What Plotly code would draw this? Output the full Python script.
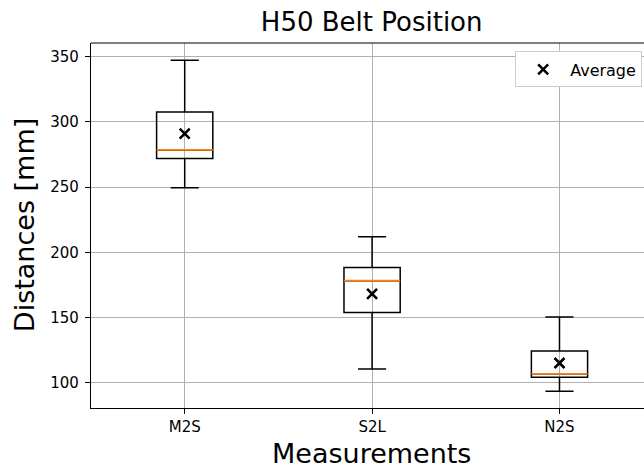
import plotly.graph_objects as go

# Box statistics per measurement (mm)
categories = ["M2S", "S2L", "N2S"]
positions = [1, 2, 3]
lower_whisker = [249.5, 110.7, 93.6]
q1_values = [272.0, 154.0, 104.3]
medians = [278.6, 178.4, 107.1]
q3_values = [307.6, 188.4, 124.5]
upper_whisker = [347.2, 212.1, 150.5]
averages = [291.1, 168.3, 115.3]

y_ticks = [100, 150, 200, 250, 300, 350]

FONT = "DejaVu Sans"
BOX_W = 0.3

fig = go.Figure()

for pos, lo, a, m, b, hi in zip(positions, lower_whisker, q1_values, medians,
                                q3_values, upper_whisker):
    fig.add_trace(go.Box(
        x=[pos], q1=[a], median=[m], q3=[b],
        lowerfence=[lo], upperfence=[hi],
        width=BOX_W, whiskerwidth=0.5,
        line=dict(color="black", width=1.5),
        fillcolor="rgba(0,0,0,0)",
        showlegend=False, hoverinfo="skip",
    ))
    # orange median bar drawn over the box
    fig.add_trace(go.Scatter(
        x=[pos - BOX_W / 2, pos + BOX_W / 2], y=[m, m],
        mode="lines", line=dict(color="#ff7f0e", width=1.6),
        showlegend=False, hoverinfo="skip",
    ))

fig.add_trace(go.Scatter(
    x=positions, y=averages, mode="markers", name="Average",
    marker=dict(symbol="x-thin", size=10, color="black",
                line=dict(color="black", width=2.6)),
))

axis_common = dict(
    showline=True, linecolor="black", linewidth=1.2,
    ticks="outside", ticklen=5, tickwidth=1, tickcolor="black",
    showgrid=True, gridcolor="#b0b0b0", gridwidth=1,
    zeroline=False, mirror=False,
    tickfont=dict(family=FONT, size=15, color="black"),
)

fig.update_xaxes(
    range=[0.5, 3.451], tickvals=positions, ticktext=categories,
    **axis_common,
)
fig.update_yaxes(
    range=[80.8, 360.5], tickvals=y_ticks,
    ticklabelstandoff=3, **axis_common,
)

# top spine of the axes frame
fig.add_shape(type="line", xref="paper", yref="paper", x0=0, x1=1, y0=1, y1=1,
              line=dict(color="black", width=1.2), layer="above")

fig.update_layout(
    width=644, height=470,
    margin=dict(l=91, r=0, t=43, b=62),
    paper_bgcolor="white", plot_bgcolor="white",
    font=dict(family=FONT, color="black"),
    title=dict(text="H50 Belt Position", x=0.5076, xref="paper",
               xanchor="center", y=1 - 22 / 470, yref="container",
               yanchor="middle", font=dict(family=FONT, size=26, color="black")),
    legend=dict(x=0.767, y=0.977, xanchor="left", yanchor="top",
                itemwidth=44,
                bgcolor="white", bordercolor="#cccccc", borderwidth=1,
                font=dict(family=FONT, size=16, color="black")),
    annotations=[
        dict(text="Distances [mm]", textangle=-90, xref="paper", yref="paper",
             x=-0.12, y=0.5, xanchor="center", yanchor="middle",
             showarrow=False, font=dict(family=FONT, size=27, color="black")),
        dict(text="Measurements", xref="paper", yref="paper",
             x=0.5076, y=-0.124, xanchor="center", yanchor="middle",
             showarrow=False, font=dict(family=FONT, size=27, color="black")),
    ],
)

fig.write_html("out.html")
